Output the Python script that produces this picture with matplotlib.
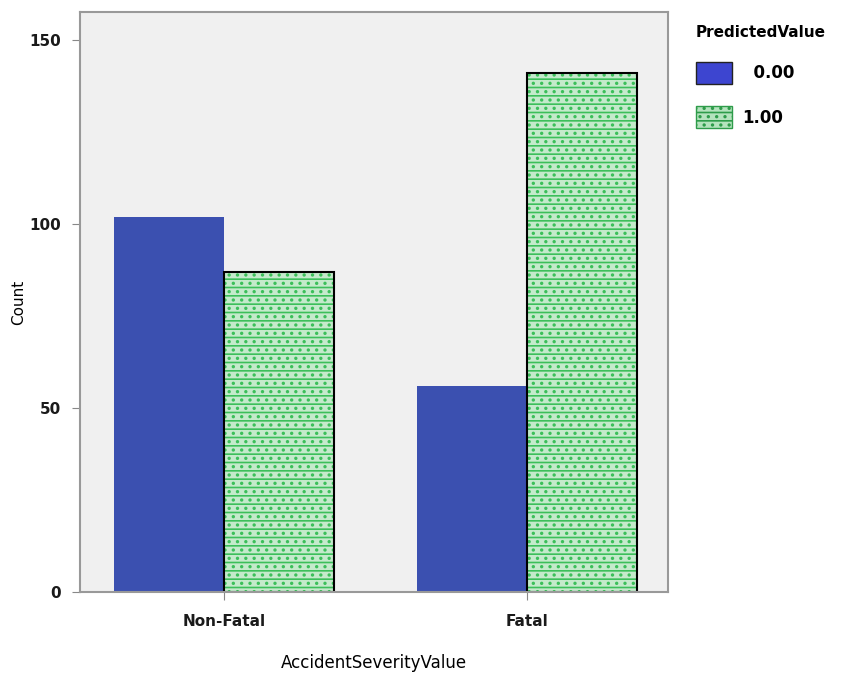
import matplotlib.pyplot as plt
from matplotlib.patches import Patch

categories = ['Non-Fatal', 'Fatal']
series_names = ['0.00', '1.00']
counts_0 = [102, 56]
counts_1 = [87, 141]
yticks = [0, 50, 100, 150]

blue = '#3b50b0'
green = '#3cbf5a'

plt.rcParams['hatch.linewidth'] = 1.2

fig = plt.figure(figsize=(8.54, 6.73), dpi=100)
ax = fig.add_axes([0.094, 0.12, 0.688, 0.862])
ax.set_facecolor('#f0f0f0')

x = range(len(categories))
w = 0.363
# bars for 0.00, left of the tick
ax.bar([i - w / 2 for i in x], counts_0, width=w, color=blue, edgecolor=blue, linewidth=0)
# textured bars for 1.00, right of the tick
ax.bar([i + w / 2 for i in x], counts_1, width=w, color='#c4eacb', edgecolor=green,
       hatch='--..', linewidth=0)
ax.bar([i + w / 2 for i in x], counts_1, width=w, fill=False, edgecolor='black', linewidth=1.5)

ax.set_xlim(-0.475, 1.465)
ax.set_ylim(0, 150 * 580 / 552)
ax.set_xticks(list(x))
ax.set_xticklabels(categories, fontsize=11, fontweight='bold')
ax.set_yticks(yticks)
ax.set_yticklabels([str(t) for t in yticks], fontsize=11, fontweight='bold')
ax.tick_params(axis='both', colors='#888888', length=6, labelcolor='#1a1a1a')
ax.tick_params(axis='x', pad=10)
ax.tick_params(axis='y', pad=8)
for s in ax.spines.values():
    s.set_color('#999999')
    s.set_linewidth(1.5)

ax.set_ylabel('Count', fontsize=11)
ax.yaxis.set_label_coords(-0.092, 0.5)
ax.set_xlabel('AccidentSeverityValue', fontsize=12, labelpad=18)

handles = [Patch(facecolor='#3d45d0', edgecolor='#222222'),
           Patch(facecolor='#b4e3bd', edgecolor='#2e9c4a', hatch='--..')]
leg = fig.legend(handles, ['  ' + series_names[0], series_names[1]], loc='upper left',
                 bbox_to_anchor=(0.797, 0.985), frameon=False, title='PredictedValue',
                 prop={'size': 12, 'weight': 'bold'}, handlelength=2.2, handleheight=1.7,
                 labelspacing=1.3, handletextpad=0.6, alignment='left')
leg.get_title().set_fontweight('bold')
leg.get_title().set_fontsize(11)

fig.savefig('out.png', dpi=100)
